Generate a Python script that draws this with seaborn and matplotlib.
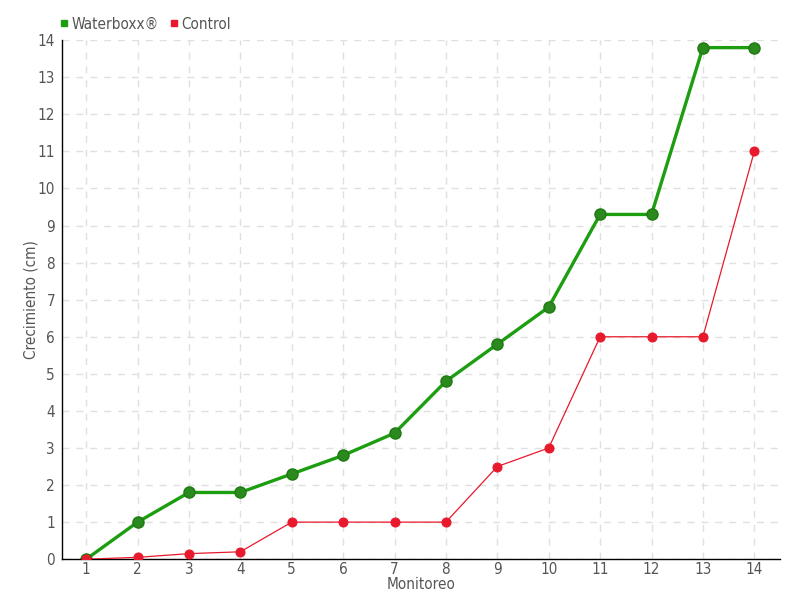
import matplotlib
matplotlib.use("Agg")
import matplotlib.pyplot as plt
import seaborn as sns
import pandas as pd
from matplotlib.lines import Line2D

monitoreo = list(range(1, 15))
waterboxx = [0, 1.0, 1.8, 1.8, 2.3, 2.8, 3.4, 4.8, 5.8, 6.8, 9.3, 9.3, 13.8, 13.8]
control = [0, 0.05, 0.15, 0.2, 1, 1, 1, 1, 2.5, 3, 6, 6, 6, 11]
series_names = ["Waterboxx®", "Control"]

sns.set_style("white")
plt.rcParams['font.family'] = ['DejaVu Sans']
plt.rcParams['font.stretch'] = 'condensed'
plt.rcParams['font.weight'] = 'light'

df = pd.DataFrame({"Monitoreo": monitoreo, "Waterboxx®": waterboxx, "Control": control})

fig = plt.figure(figsize=(8, 6), dpi=100)
ax = fig.add_axes([0.0775, 0.068, 0.8975, 0.865])

green = "#1c9e10"
red = "#e8192c"
sns.lineplot(data=df, x="Monitoreo", y="Control", ax=ax, color=red, linewidth=0.9,
             marker="o", markersize=6.5, markeredgecolor=red, zorder=3)
sns.lineplot(data=df, x="Monitoreo", y="Waterboxx®", ax=ax, color=green, linewidth=2.4,
             marker="o", markersize=8, markerfacecolor="#2a8a1e", markeredgecolor="#1f7a12",
             markeredgewidth=1, zorder=2)

ax.set_xlim(0.53, 14.5)
ax.set_ylim(0, 14)
ax.set_xticks(monitoreo)
ax.set_yticks(range(0, 15))
ax.grid(True, color="#e0e0e0", linestyle=(0, (5, 5)), linewidth=1)
for s in ["top", "right"]:
    ax.spines[s].set_visible(False)
for s in ["left", "bottom"]:
    ax.spines[s].set_color("black")
    ax.spines[s].set_linewidth(1)
ax.tick_params(axis="both", labelcolor="#555555", labelsize=11, direction="out",
               color="black")
ax.tick_params(axis="x", length=3, pad=-1)
ax.tick_params(axis="y", length=4, pad=1)
ax.set_xlabel("Monitoreo", color="#555555", fontsize=11, labelpad=0)
ax.set_ylabel("Crecimiento (cm)", color="#555555", fontsize=11, labelpad=-1)

handles = [Line2D([], [], marker="s", linestyle="", color=green, markersize=5),
           Line2D([], [], marker="s", linestyle="", color=red, markersize=5)]
fig.legend(handles, series_names, loc="upper left", bbox_to_anchor=(0.055, 0.995), ncol=2,
           frameon=False, fontsize=11, handletextpad=0.1, columnspacing=0.6,
           labelcolor="#555555", handlelength=0.8)

fig.savefig("out.png", dpi=100)
